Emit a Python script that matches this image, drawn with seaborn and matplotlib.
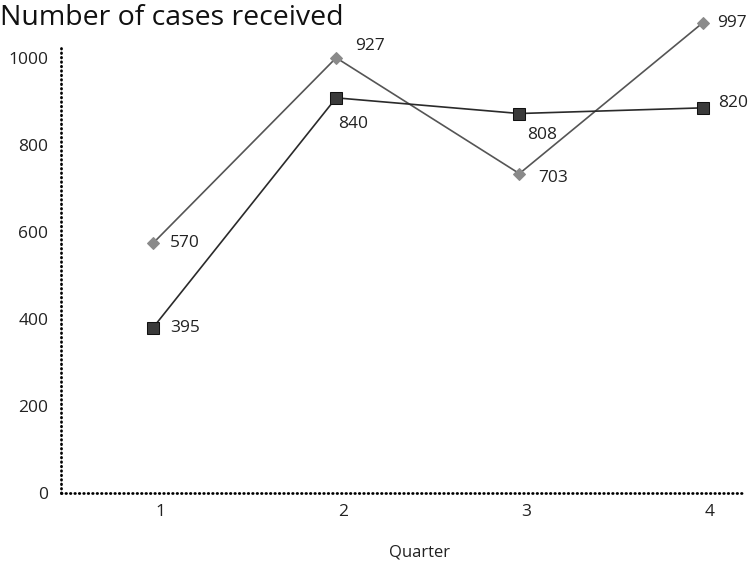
import matplotlib
matplotlib.use("Agg")
import matplotlib.pyplot as plt
import matplotlib.transforms as mtransforms
import seaborn as sns

# data as drawn in the picture (marker heights) and the printed labels
quarters = [1, 2, 3, 4]
series_a_y = [574, 1000, 734, 1080]     # grey diamonds
series_a_labels = ["570", "927", "703", "997"]
series_b_y = [380, 908, 872, 885]       # dark squares
series_b_labels = ["395", "840", "808", "820"]
y_ticks = [0, 200, 400, 600, 800, 1000]

sns.set_style("white")
plt.rcParams["font.family"] = ["Open Sans", "DejaVu Sans"]

fig = plt.figure(figsize=(7.53, 5.65), dpi=100)
ax = fig.add_axes([0.081, 0.127, 0.908, 0.79])

sns.lineplot(x=quarters, y=series_a_y, ax=ax, color="#555555", linewidth=1.2,
             marker="D", markersize=6, markerfacecolor="#8a8a8a",
             markeredgecolor="#8a8a8a", clip_on=False)
sns.lineplot(x=quarters, y=series_b_y, ax=ax, color="#2a2a2a", linewidth=1.2,
             marker="s", markersize=8, markerfacecolor="#3a3a3a",
             markeredgecolor="#111111", clip_on=False)

# value labels
a_offsets = [(17, 0), (19, 12), (19, -4), (15, 0)]
b_offsets = [(17, 0), (2, -26), (8, -21), (16, 5)]
for x, y, lab, off in zip(quarters, series_a_y, series_a_labels, a_offsets):
    ax.annotate(lab, (x, y), xytext=off, textcoords="offset pixels",
                ha="left", va="center", fontsize=12.5, color="#222222",
                annotation_clip=False)
for x, y, lab, off in zip(quarters, series_b_y, series_b_labels, b_offsets):
    ax.annotate(lab, (x, y), xytext=off, textcoords="offset pixels",
                ha="left", va="center", fontsize=12.5, color="#222222",
                annotation_clip=False)

ax.set_xlim(0.498, 4.23)
ax.set_ylim(0, 1025)
ax.set_xticks(quarters)
ax.set_yticks(y_ticks)
ax.tick_params(length=0, labelsize=12.5, colors="#222222")
ax.tick_params(axis="y", pad=9)
ax.tick_params(axis="x", pad=8)

# tick labels sit a little right of the markers in the reference
shift = mtransforms.ScaledTranslation(7 / 100, 0, fig.dpi_scale_trans)
for lab in ax.get_xticklabels():
    lab.set_transform(lab.get_transform() + shift)

for side in ["top", "right"]:
    ax.spines[side].set_visible(False)
for side in ["left", "bottom"]:
    ax.spines[side].set_linestyle((0, (0.2, 1.4)))
    ax.spines[side].set_linewidth(2.0)
    ax.spines[side].set_capstyle("round")
    ax.spines[side].set_color("black")

ax.set_xlabel("Quarter", fontsize=12, color="#222222")
ax.xaxis.set_label_coords(0.525, -0.115)
ax.set_ylabel("")

fig.text(0.0, 1 - 25 / 565, "Number of cases received", fontsize=20.5,
         ha="left", va="baseline", color="#111111")

fig.savefig("out.png", dpi=100)
